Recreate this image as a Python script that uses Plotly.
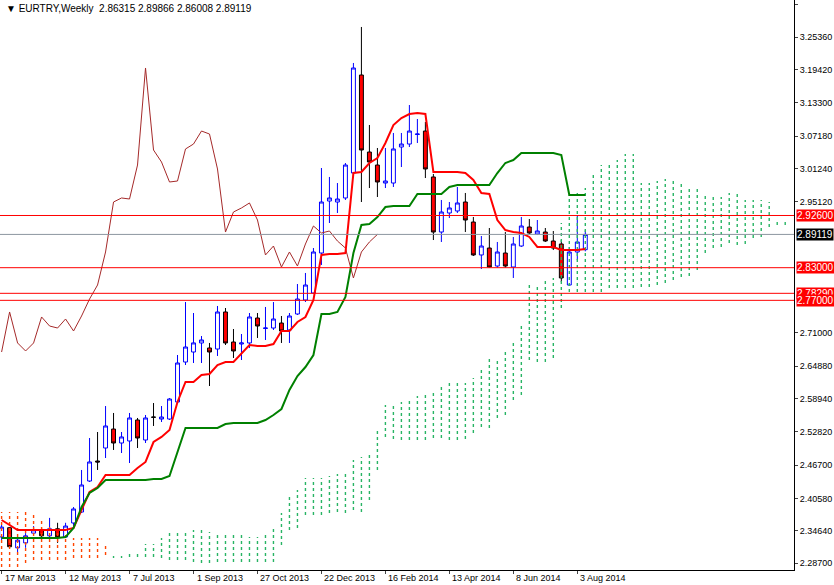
import plotly.graph_objects as go

# weekly candles, index 0 = week of 17 Mar 2013
opens = [2.335, 2.352, 2.315, 2.324, 2.342, 2.348, 2.337, 2.350, 2.335, 2.3606,
         2.3808, 2.4378, 2.4746, 2.4985, 2.5334, 2.5077, 2.5114, 2.5500, 2.5132, 2.5555,
         2.5518, 2.5518, 2.5831, 2.6566, 2.6750, 2.6916, 2.6824, 2.6805, 2.7486, 2.6934,
         2.6897, 2.6916, 2.7375, 2.7183, 2.7191, 2.7283, 2.7155, 2.7449, 2.7706, 2.7835,
         2.8570, 2.9526, 2.9508, 2.9582, 3.0041, 3.1843, 3.0427, 3.0188, 2.9857, 2.9857,
         3.0519, 3.0574, 3.0749, 3.0813, 2.9968, 2.8956, 2.9306, 2.9343, 2.9508, 2.9140,
         2.8534, 2.8662, 2.8331, 2.8570, 2.8313, 2.8699, 2.9048, 2.8920, 2.8956, 2.8791,
         2.8736, 2.7982, 2.8589, 2.86315]
highs = [2.357, 2.353, 2.335, 2.342, 2.355, 2.352, 2.370, 2.361, 2.361, 2.3900,
         2.4581, 2.5169, 2.5279, 2.5757, 2.5629, 2.5279, 2.5629, 2.5537, 2.5592, 2.5812,
         2.5757, 2.5904, 2.6695, 2.7669, 2.7467, 2.7044, 2.6916, 2.7596, 2.7559, 2.7173,
         2.7081, 2.7467, 2.7467, 2.7578, 2.7669, 2.7412, 2.7467, 2.8000, 2.8203, 2.8662,
         3.0133, 2.9968, 2.9857, 3.0225, 3.2064, 3.2726, 3.0924, 3.0501, 3.0501, 3.0777,
         3.0777, 3.1291, 3.1034, 3.0979, 3.0023, 2.9545, 2.9508, 2.9784, 2.9674, 2.9232,
         2.8883, 2.9030, 2.8773, 2.8956, 2.8864, 2.9232, 2.9195, 2.9177, 2.9030, 2.8975,
         2.8809, 2.8681, 2.9269, 2.89866]
lows = [2.329, 2.315, 2.306, 2.315, 2.340, 2.335, 2.333, 2.324, 2.333, 2.3514,
        2.3790, 2.4360, 2.4581, 2.4801, 2.4949, 2.4893, 2.4709, 2.4985, 2.5077, 2.5390,
        2.5463, 2.5500, 2.5812, 2.6511, 2.6548, 2.6548, 2.6125, 2.6677, 2.6879, 2.6640,
        2.6603, 2.6824, 2.7008, 2.6971, 2.7155, 2.6916, 2.6916, 2.7431, 2.7669, 2.7817,
        2.8350, 2.9122, 2.9306, 2.9545, 2.9968, 2.9508, 2.9765, 2.9600, 2.9765, 2.9784,
        3.0151, 3.0519, 3.0593, 2.9949, 2.8809, 2.8773, 2.9214, 2.9306, 2.8956, 2.8515,
        2.8276, 2.8300, 2.8300, 2.8300, 2.8111, 2.8681, 2.8920, 2.8901, 2.8773, 2.8625,
        2.8037, 2.7964, 2.8442, 2.86008]
closes = [2.353, 2.317, 2.329, 2.337, 2.348, 2.337, 2.350, 2.335, 2.355, 2.3864,
          2.4305, 2.4728, 2.4728, 2.5390, 2.5077, 2.5188, 2.5537, 2.5169, 2.5537, 2.5550,
          2.5555, 2.5886, 2.6548, 2.6842, 2.6917, 2.6971, 2.6750, 2.7486, 2.6916, 2.6769,
          2.6916, 2.7394, 2.7228, 2.7191, 2.7357, 2.7136, 2.7412, 2.7724, 2.7982, 2.8589,
          2.9508, 2.9582, 2.9563, 3.0188, 3.1972, 3.0464, 3.0243, 2.9876, 2.9894, 3.0483,
          3.0574, 3.0813, 3.0758, 3.0115, 2.8956, 2.9324, 2.9398, 2.9490, 2.9177, 2.8534,
          2.8699, 2.8313, 2.8589, 2.8331, 2.8736, 2.9067, 2.8938, 2.8975, 2.8791, 2.8662,
          2.8111, 2.8589, 2.8773, 2.89119]

tenkan = [2.3661, 2.3569, 2.3477, 2.3477, 2.3477, 2.3477, 2.3477, 2.3477, 2.3477, 2.3514,
          2.3845, 2.4176, 2.4268, 2.4489, 2.4489, 2.4489, 2.4489, 2.4617, 2.4728, 2.5095,
          2.5188, 2.5316, 2.5831, 2.6199, 2.6199, 2.6327, 2.6346, 2.6511, 2.6566, 2.6566,
          2.6713, 2.6879, 2.6860, 2.6860, 2.6897, 2.7136, 2.7136, 2.7302, 2.7394, 2.7706,
          2.8534, 2.8552, 2.8552, 2.8570, 3.0041, 3.0060, 3.0225, 3.0317, 3.0593, 3.0924,
          3.1052, 3.1126, 3.1144, 3.1126, 3.0060, 3.0060, 3.0060, 3.0060, 3.0041, 2.9913,
          2.9674, 2.9655, 2.9177, 2.8993, 2.8956, 2.8938, 2.8865, 2.8681, 2.8681, 2.8681,
          2.8626, 2.8626, 2.8626, 2.8644]
kijun = [2.3330] * 8 + [2.3349, 2.3514, 2.3900, 2.4158, 2.4250] + [2.4397] * 6 + \
        [2.4415, 2.4415, 2.4470, 2.4893] + [2.5353] * 5 + [2.5426] + [2.5445] * 4 + \
        [2.5500, 2.5592, 2.5702, 2.6052, 2.6309, 2.6474, 2.6695, 2.7449, 2.7449, 2.7486,
         2.7761, 2.8570, 2.9085, 2.9104, 2.9232, 2.9416] + [2.9435] * 3 + [2.9655] * 4 + \
        [2.9784] + [2.9821] * 5 + [3.0041, 3.0225, 3.0280] + [3.0409] * 5 + [3.0372] + [2.9637] * 3

# cloud edges, 26 weeks ahead; first 14 bars bearish (orange)
cloud_top = [2.3808, 2.3808, 2.3808, 2.3808, 2.3753, 2.3661, 2.3569, 2.3477, 2.3385, 2.3330,
             2.3330, 2.3330, 2.3330, 2.3202, 2.2999, 2.2999, 2.3055, 2.3091, 2.3220, 2.3220,
             2.3330, 2.3422, 2.3440, 2.3440, 2.3477, 2.3477, 2.3440, 2.3422, 2.3385, 2.3385,
             2.3385, 2.3349, 2.3349, 2.3422, 2.3514, 2.3790, 2.4139, 2.4213, 2.4433, 2.4433,
             2.4433, 2.4470, 2.4507, 2.4562, 2.4764, 2.4819, 2.4893, 2.5316, 2.5776, 2.5813,
             2.5831, 2.5849, 2.5941, 2.5997, 2.6015, 2.6125, 2.6180, 2.6180, 2.6180, 2.6272,
             2.6419, 2.6640, 2.6603, 2.6787, 2.6934, 2.7228, 2.7982, 2.7982, 2.8056, 2.8111,
             2.9122, 2.9637, 2.9674, 2.9766, 3.0060, 3.0188, 3.0225, 3.0280, 3.0391, 3.0391,
             2.9857, 2.9857, 2.9894, 2.9931, 2.9931, 2.9857, 2.9747, 2.9747, 2.9618, 2.9618,
             2.9600, 2.9674, 2.9655, 2.9545, 2.9545, 2.9545, 2.9508, 2.9140, 2.9140]
cloud_bot = [2.2797, 2.2797, 2.2797, 2.2871, 2.2926, 2.2926, 2.2926, 2.2926, 2.2926, 2.2963,
             2.2963, 2.2963, 2.2963, 2.3018, 2.2963, 2.2963, 2.2981, 2.2981, 2.2981, 2.2981,
             2.2963, 2.2926, 2.2926, 2.2926, 2.2889, 2.2871, 2.2871, 2.2889, 2.2889, 2.2889,
             2.2889, 2.2889, 2.2889, 2.2889, 2.2889, 2.3202, 2.3477, 2.3514, 2.3753, 2.3753,
             2.3753, 2.3790, 2.3808, 2.3790, 2.3845, 2.3808, 2.4029, 2.4581, 2.5187, 2.5151,
             2.5132, 2.5132, 2.5132, 2.5132, 2.5169, 2.5169, 2.5132, 2.5132, 2.5151, 2.5261,
             2.5371, 2.5353, 2.5537, 2.5592, 2.5868, 2.5960, 2.6603, 2.6566, 2.6566, 2.6640,
             2.7559, 2.7853, 2.7853, 2.7853, 2.7853, 2.7853, 2.7927, 2.7927, 2.7927, 2.7927,
             2.7945, 2.7945, 2.7982, 2.8019, 2.8074, 2.8129, 2.8148, 2.8258, 2.8570, 2.8662,
             2.8681, 2.8754, 2.8717, 2.8736, 2.8846, 2.8865, 2.9048, 2.9085, 2.9085]
bear_bars = 14

date_labels = ['17 Mar 2013', '12 May 2013', '7 Jul 2013', '1 Sep 2013', '27 Oct 2013',
               '22 Dec 2013', '16 Feb 2014', '13 Apr 2014', '8 Jun 2014', '3 Aug 2014']
date_idx = [0, 8, 16, 24, 32, 40, 48, 56, 64, 72]

price_ticks = [3.31480, 3.25360, 3.19420, 3.13300, 3.07180, 3.01240, 2.95120,
               2.71000, 2.64880, 2.58940, 2.52820, 2.46700, 2.40580, 2.34640, 2.28700]
levels = [2.92600, 2.83000, 2.78290, 2.77000]
last_price = 2.89119

n = len(closes)
idx = list(range(n))
FONT = 'Liberation Sans'

fig = go.Figure()


def cloud_trace(lo_i, hi_i, color):
    xs, ys = [], []
    for i in range(lo_i, hi_i):
        xs += [i, i, None]
        ys += [cloud_bot[i], cloud_top[i], None]
    return go.Scatter(x=xs, y=ys, mode='lines', line=dict(color=color, width=1.4, dash='3px,3px'),
                      hoverinfo='skip', showlegend=False)


fig.add_trace(cloud_trace(0, bear_bars, 'rgb(255,69,0)'))
fig.add_trace(cloud_trace(bear_bars, len(cloud_top), 'rgb(40,180,100)'))

# chikou span: close shifted back 26 weeks
fig.add_trace(go.Scatter(x=idx[:n - 26], y=closes[26:], mode='lines',
                         line=dict(color='#a52a2a', width=1), showlegend=False))

for lv in levels:
    fig.add_hline(y=lv, line=dict(color='red', width=1))
fig.add_hline(y=last_price, line=dict(color='#8c96a0', width=1))

fig.add_trace(go.Candlestick(
    x=idx, open=opens, high=highs, low=lows, close=closes,
    increasing=dict(line=dict(color='blue', width=1), fillcolor='white'),
    decreasing=dict(line=dict(color='black', width=1), fillcolor='red'),
    whiskerwidth=0, showlegend=False))

fig.add_trace(go.Scatter(x=idx, y=tenkan, mode='lines', line=dict(color='red', width=2),
                         showlegend=False))
fig.add_trace(go.Scatter(x=idx, y=kijun, mode='lines', line=dict(color='green', width=2),
                         showlegend=False))

fig.add_annotation(xref='paper', yref='paper', x=0.005, y=0.998, xanchor='left', yanchor='top',
                   text='▼ EURTRY,Weekly  2.86315 2.89866 2.86008 2.89119', showarrow=False,
                   font=dict(size=10, color='black', family=FONT))

# date labels start at their tick, like the terminal draws them
for i, lab in zip(date_idx, date_labels):
    fig.add_annotation(x=i, yref='paper', y=0, yanchor='top', xanchor='left', text=lab,
                       showarrow=False, yshift=-1, xshift=1, font=dict(size=9, family=FONT))

for lv in levels:
    fig.add_annotation(xref='paper', x=1.0, y=lv, xanchor='left', text=f'{lv:.5f}',
                       showarrow=False, bgcolor='red', font=dict(color='white', size=10, family=FONT),
                       borderpad=0, xshift=2)
fig.add_annotation(xref='paper', x=1.0, y=last_price, xanchor='left', text=f'{last_price:.5f}',
                   showarrow=False, bgcolor='black', font=dict(color='white', size=10, family=FONT),
                   borderpad=0, xshift=2)

fig.update_layout(
    width=834, height=585,
    margin=dict(l=0, r=40, t=0, b=15),
    paper_bgcolor='white', plot_bgcolor='white',
    font=dict(family=FONT, size=9, color='black'),
    xaxis=dict(range=[-0.2, 99.1], rangeslider=dict(visible=False), showgrid=False,
               zeroline=False, tickvals=date_idx, ticktext=[''] * len(date_idx), ticks='outside',
               ticklen=3, showline=True, linecolor='black'),
    yaxis=dict(range=[2.2742, 3.3222], side='right', showgrid=False, zeroline=False,
               tickvals=price_ticks, ticktext=[f'{v:.5f}' for v in price_ticks],
               ticks='outside', ticklen=3, showline=True, linecolor='black',
               tickfont=dict(size=9, family=FONT)),
)

fig.write_html('out.html', config={'displayModeBar': False},
               post_script="document.body.style.margin='0';document.body.style.overflow='hidden';")
